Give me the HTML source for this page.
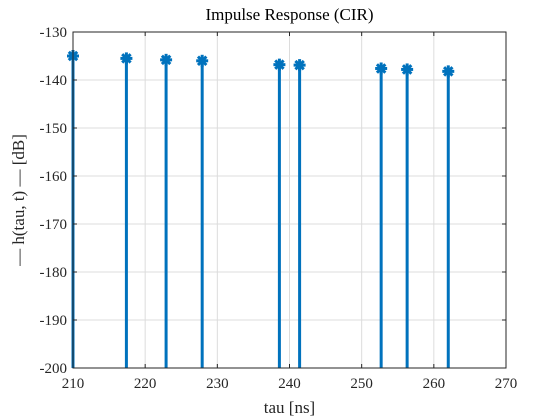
<!DOCTYPE html>
<html><head><meta charset="utf-8"><style>
body{margin:0;background:#fff;}
svg{display:block;font-family:"Liberation Serif",serif;}
</style></head><body>
<svg id="chart" width="560" height="420" viewBox="0 0 560 420" xmlns="http://www.w3.org/2000/svg">
<rect width="560" height="420" fill="#fff"/>
<g id="grid"></g>
<g id="stems"></g>
<rect x="73" y="32" width="433" height="336" fill="none" stroke="#262626" stroke-width="1"/>
<g id="ticks"></g>
<text x="289.5" y="20" text-anchor="middle" font-size="17" fill="#000">Impulse Response (CIR)</text>
<text x="289.5" y="413" text-anchor="middle" font-size="17" fill="#262626">tau [ns]</text>
<text transform="translate(24,200) rotate(-90)" text-anchor="middle" font-size="17" fill="#262626">— h(tau, t) —  [dB]</text>
</svg>
<script>
const tau = [210, 217.4, 222.9, 227.9, 238.6, 241.4, 252.7, 256.3, 262.0];
const hdB = [-135.0, -135.5, -135.8, -136.0, -136.8, -136.9, -137.6, -137.8, -138.2];
const xTicks = [210, 220, 230, 240, 250, 260, 270];
const yTicks = [-130, -140, -150, -160, -170, -180, -190, -200];
const NS = "http://www.w3.org/2000/svg";
const X0 = 73, X1 = 506, Y0 = 32, Y1 = 368;
function xs(v){ return X0 + (v - 210) / 60 * (X1 - X0); }
function ys(v){ return Y0 + (-130 - v) / 70 * (Y1 - Y0); }
function mk(tag, attrs, parent){ const e = document.createElementNS(NS, tag); for (const k in attrs) e.setAttribute(k, attrs[k]); parent.appendChild(e); return e; }
const grid = document.getElementById('grid'), ticks = document.getElementById('ticks'), stems = document.getElementById('stems');
xTicks.forEach(t => {
  const x = xs(t);
  const g = mk('line', {x1:x, x2:x, y1:Y0, y2:Y1, stroke:'#dcdcdc', 'stroke-width':1}, grid);
  
  
  mk('line', {x1:x, x2:x, y1:Y1, y2:Y1-4, stroke:'#262626'}, ticks);
  mk('line', {x1:x, x2:x, y1:Y0, y2:Y0+4, stroke:'#262626'}, ticks);
  const l = mk('text', {x:x, y:Y1+20, 'text-anchor':'middle', 'font-size':15, fill:'#262626'}, ticks);
  l.textContent = t;
  
  
});
yTicks.forEach(t => {
  const y = ys(t);
  const g = mk('line', {x1:X0, x2:X1, y1:y, y2:y, stroke:'#dcdcdc', 'stroke-width':1}, grid);
  
  
  mk('line', {x1:X0, x2:X0+4, y1:y, y2:y, stroke:'#262626'}, ticks);
  mk('line', {x1:X1, x2:X1-4, y1:y, y2:y, stroke:'#262626'}, ticks);
  const l = mk('text', {x:X0-6, y:y+5, 'text-anchor':'end', 'font-size':15, fill:'#262626'}, ticks);
  l.textContent = t;
  
  
});
tau.forEach((t, i) => {
  const x = xs(t), y = ys(hdB[i]);
  const s = mk('line', {x1:x, x2:x, y1:Y1, y2:y, stroke:'#0072BD', 'stroke-width':3}, stems);
  
  
  const g = mk('g', {stroke:'#0072BD', 'stroke-width':3}, stems);
  
  
  const r = 6;
  mk('line', {x1:x-r, x2:x+r, y1:y, y2:y}, g);
  mk('line', {x1:x, x2:x, y1:y-r, y2:y+r}, g);
  mk('line', {x1:x-r*0.7, x2:x+r*0.7, y1:y-r*0.7, y2:y+r*0.7}, g);
  mk('line', {x1:x-r*0.7, x2:x+r*0.7, y1:y+r*0.7, y2:y-r*0.7}, g);
});
</script>
</body></html>
